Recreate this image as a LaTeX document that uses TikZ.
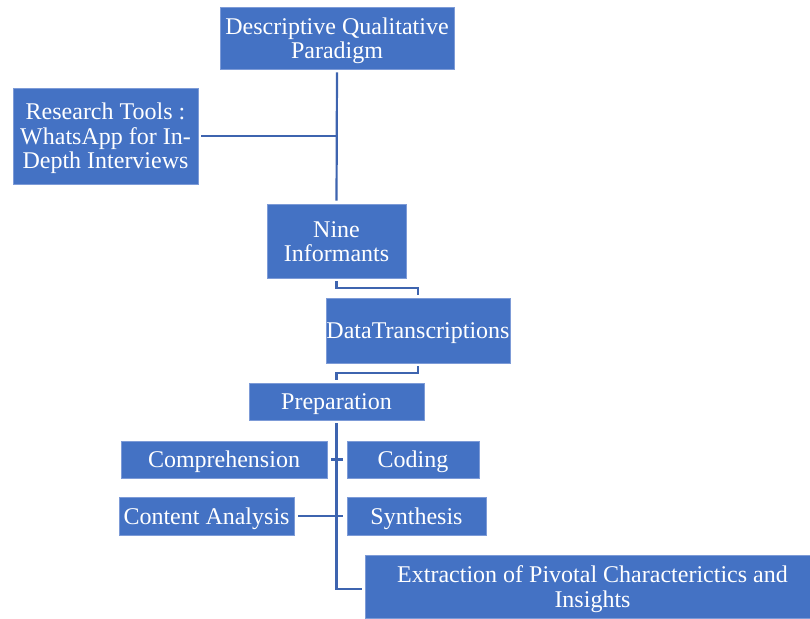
\documentclass[tikz,border=0pt]{standalone}
\usepackage{fontspec}
\setmainfont{Liberation Serif}
\usetikzlibrary{calc}
\definecolor{boxblue}{RGB}{68,114,196}
\definecolor{boxedge}{RGB}{125,155,215}
\definecolor{linkblue}{RGB}{62,100,175}
\newcommand{\lowtext}[1]{\raisebox{-3.5pt}[\height][\depth]{\begin{tabular}{@{}c@{}}#1\end{tabular}}}
\tikzset{
  flowbox/.style={fill=boxblue, draw=boxedge, line width=0.6pt, text=white,
    inner sep=0pt, font=\fontsize{24}{24.5}\selectfont},
  link/.style={draw=linkblue, line width=2.2pt, shorten <=3pt, shorten >=3pt}
}
\begin{document}
\begin{tikzpicture}[x=1pt, y=-1pt]
\useasboundingbox (0,0) rectangle (810,618);
\node[flowbox, minimum width=234pt, minimum height=62pt] (desc) at (337,38) {\lowtext{Descriptive Qualitative\\Paradigm}};
\node[flowbox, minimum width=185pt, minimum height=96pt] (tools) at (105.5,136) {\lowtext{Research Tools :\\WhatsApp for In-\\Depth Interviews}};
\node[flowbox, minimum width=139pt, minimum height=74pt] (nine) at (336.5,241) {\lowtext{Nine\\Informants}};
\node[flowbox, minimum width=184pt, minimum height=65pt] (data) at (418,330.5) {\lowtext{DataTranscriptions}};
\node[flowbox, minimum width=175pt, minimum height=37pt] (prep) at (336.5,401.5) {\lowtext{Preparation}};
\node[flowbox, minimum width=206pt, minimum height=37pt] (comp) at (224,459.5) {\lowtext{Comprehension}};
\node[flowbox, minimum width=132pt, minimum height=37pt] (coding) at (413,459.5) {\lowtext{Coding}};
\node[flowbox, minimum width=175pt, minimum height=38pt] (content) at (206.5,516) {\lowtext{Content Analysis}};
\node[flowbox, minimum width=139pt, minimum height=38pt] (synth) at (416.5,516) {\lowtext{Synthesis}};
\node[flowbox, minimum width=445pt, minimum height=63pt] (extr) at (587.5,586.5) {\hspace*{10pt}\lowtext{Extraction of Pivotal Characterictics and\\Insights}};
% connectors
\draw[link] (desc.south) -- (nine.north);
\draw[link, shorten >=0pt] (tools.east) -- (tools.east -| desc.south);
\draw[link] (nine.south) -- ++(0,10) -| (data.north);
\draw[link] (data.south) -- ++(0,10) -| (prep.north);
\draw[link] (prep.south) |- ([yshift=-2.5pt]extr.west);
\draw[link, shorten <=4pt, shorten >=4pt] (comp.east) -- (coding.west);
\draw[link, shorten <=4pt, shorten >=4pt] (content.east) -- (synth.west);
\end{tikzpicture}
\end{document}
